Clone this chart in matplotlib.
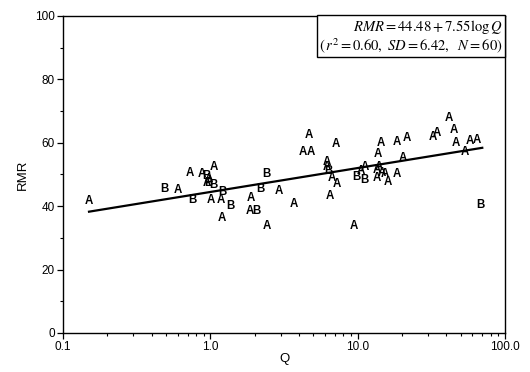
import matplotlib
matplotlib.use("Agg")
import matplotlib.pyplot as plt
import numpy as np
from matplotlib.ticker import FixedLocator, NullFormatter

# ---- data ----
q_a = [0.15, 0.60, 0.73, 0.87, 1.06, 0.94, 1.01, 1.17, 1.19, 1.88, 1.85, 2.40,
       2.9, 3.67, 4.64, 4.23, 4.8, 7.08, 6.15, 6.2, 6.46, 6.7, 7.2, 11.2, 9.4,
       13.7, 14.3, 13.5, 13.5, 14.5, 15.2, 16.0, 18.4, 18.4, 21.5, 20.2, 32.4,
       34.6, 41.6, 44.6, 46.6, 53.5, 57.5, 64.5, 0.98, 14.0, 10.5]
rmr_a = [41.5, 45.0, 50.5, 50.2, 52.4, 47.3, 42.0, 42.0, 36.3, 42.6, 38.5, 33.6,
         44.7, 40.7, 62.5, 57.1, 57.1, 59.6, 54.0, 52.5, 43.2, 49.0, 47.0, 52.4, 33.8,
         56.5, 60.0, 51.5, 48.8, 50.5, 50.0, 47.6, 50.0, 60.3, 61.5, 55.2, 61.8,
         63.0, 67.8, 64.0, 60.0, 57.1, 60.6, 60.9, 48.5, 52.5, 51.0]
q_b = [0.49, 0.75, 0.94, 0.97, 1.05, 1.21, 1.37, 2.05, 2.40, 2.19, 6.3, 9.85, 11.1, 67.6]
rmr_b = [45.5, 42.0, 49.5, 47.3, 46.7, 44.5, 40.0, 38.5, 50.3, 45.5, 51.0, 49.2, 48.3, 40.4]

intercept = 44.48
slope = 7.551
q_line = [0.15, 70.0]

x_ticks = [0.1, 1.0, 10.0, 100.0]
x_labels = ["0.1", "1.0", "10.0", "100.0"]
y_ticks = [0, 20, 40, 60, 80, 100]

fig = plt.figure(figsize=(5.3, 3.72), dpi=100)
ax = fig.add_axes([0.119, 0.105, 0.834, 0.852])

ql = np.logspace(np.log10(q_line[0]), np.log10(q_line[1]), 50)
ax.plot(ql, intercept + slope * np.log10(ql), color="black", lw=1.6, zorder=2)

for q, r in zip(q_a, rmr_a):
    ax.text(q, r, "A", ha="center", va="center", fontsize=8.3, fontweight="bold",
            family="Liberation Sans", zorder=3)
for q, r in zip(q_b, rmr_b):
    ax.text(q, r, "B", ha="center", va="center", fontsize=8.3, fontweight="bold",
            family="Liberation Sans", zorder=3)

ax.set_xscale("log")
ax.set_xlim(0.1, 100)
ax.set_ylim(0, 100)
ax.xaxis.set_major_locator(FixedLocator(x_ticks))
ax.set_xticklabels(x_labels)
ax.xaxis.set_minor_formatter(NullFormatter())
ax.set_yticks(y_ticks)
ax.yaxis.set_minor_locator(FixedLocator([10, 30, 50, 70, 90]))

ax.tick_params(axis="both", which="major", direction="out", length=4, width=0.9,
               labelsize=8.5, pad=2)
ax.tick_params(axis="both", which="minor", direction="out", length=2.5, width=0.8)
for lab in ax.get_xticklabels() + ax.get_yticklabels():
    lab.set_family("Liberation Sans")
for s in ax.spines.values():
    s.set_linewidth(1.0)

ax.set_xlabel("Q", fontsize=9.5, family="Liberation Sans", labelpad=0)
ax.set_ylabel("RMR", fontsize=9.5, family="Liberation Sans", labelpad=4)

plt.rcParams["mathtext.fontset"] = "stix"
txt = ("$RMR = 44.48 + 7.55\\mathrm{log}\\,Q$\n"
       "$(\\,r^2 = 0.60,\\ SD = 6.42,\\ \\ N = 60)$")
ax.text(0.995, 0.995, txt, transform=ax.transAxes, ha="right", va="top",
        fontsize=10.5, family="STIXGeneral", linespacing=1.05,
        bbox=dict(boxstyle="square,pad=0.15", fc="white", ec="black", lw=1.0))

fig.savefig("out.png", dpi=100)
